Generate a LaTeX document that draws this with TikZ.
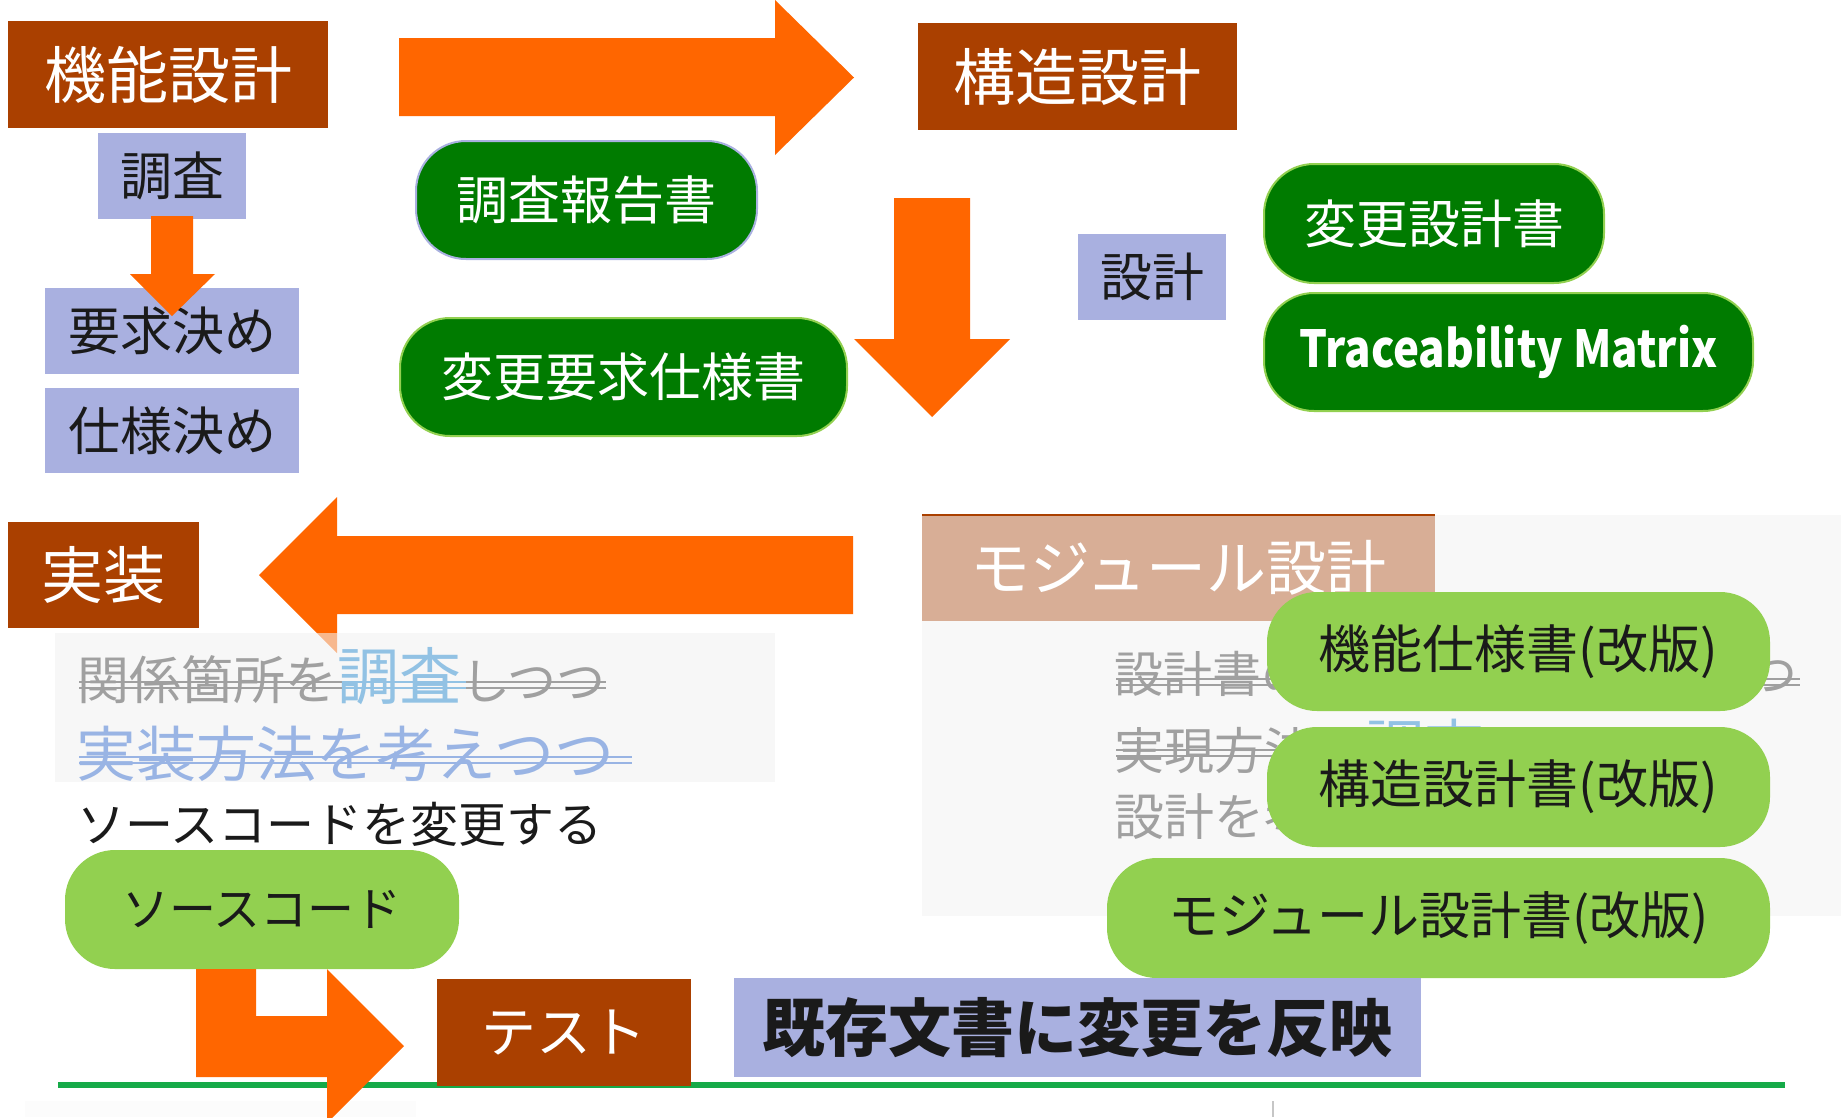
\documentclass[tikz,border=0pt]{standalone}
\usepackage{fontspec}
\setmainfont{Noto Sans CJK JP}
\definecolor{cbrown}{RGB}{170,64,0}
\definecolor{clav}{RGB}{169,176,224}
\definecolor{corange}{RGB}{255,102,0}
\definecolor{cdgreen}{RGB}{0,123,0}
\definecolor{clgreen}{RGB}{146,208,80}
\definecolor{cmodule}{RGB}{216,174,150}
\definecolor{cbg}{RGB}{248,248,248}
\definecolor{cbgov}{RGB}{243,243,243}
\definecolor{cbg2}{RGB}{252,252,252}
\definecolor{cgraytext}{RGB}{160,160,160}
\definecolor{cblueA}{RGB}{146,194,228}
\definecolor{cblueB}{RGB}{153,180,228}
\definecolor{cline}{RGB}{22,170,72}
\definecolor{ctext}{RGB}{26,26,26}
\newcommand{\myfs}[1]{\fontsize{#1}{#1}\selectfont}
\begin{document}
\begin{tikzpicture}[x=1pt,y=-1pt,
  box/.style={inner sep=0pt, outer sep=0pt, align=center},
  brownbox/.style={box, fill=cbrown, text=white, font=\myfs{62}},
  lavbox/.style={box, fill=clav, text=ctext, font=\myfs{52}},
  dpill/.style={box, fill=cdgreen, draw=clgreen, line width=2pt, rounded corners=50pt, text=white, font=\myfs{52}},
  lpill/.style={box, fill=clgreen, rounded corners=50pt, text=ctext, font=\myfs{52}},
  blockarrow/.style={fill=corange, draw=none},
  strike/.style={line width=2.6pt},
  txt/.style={anchor=base west, inner sep=0pt, outer sep=0pt}
]
\useasboundingbox (0,0) rectangle (1841,1117);
\fill[white] (0,0) rectangle (1841,1117);

% backgrounds
\fill[cbg] (922,515) rectangle (1841,916);
\fill[cbg2] (25,1101) rectangle (416,1117);
\draw[gray!45, line width=2pt] (1273,1101) -- (1273,1117);

% top-left block
\node[brownbox, minimum width=320pt, minimum height=107pt] (kinou) at (168,74.5) {機能設計};
\node[lavbox, minimum width=148pt, minimum height=86pt] (chousa) at (172,176) {調査};
\node[lavbox, minimum width=254pt, minimum height=86pt] (youkyuu) at (172,331) {要求決め};
\node[lavbox, minimum width=254pt, minimum height=85pt] (shiyou) at (172,430.5) {仕様決め};
\fill[blockarrow] (151,216) -- (193,216) -- (193,274) -- (215,274) -- (172,316) -- (130,274) -- (151,274) -- cycle;

% top arrow
\fill[blockarrow] (399,38) -- (775,38) -- (775,0) -- (854,77.5) -- (775,155) -- (775,116) -- (399,116) -- cycle;

\node[dpill, draw=clav, minimum width=341pt, minimum height=118pt] (houkoku) at (586.5,200) {調査報告書};
\node[dpill, minimum width=447pt, minimum height=118pt] (henyou) at (623.5,377) {変更要求仕様書};

% structure design
\node[brownbox, minimum width=319pt, minimum height=107pt] (kouzou) at (1077.5,76.5) {構造設計};
\fill[blockarrow] (894,198) -- (970,198) -- (970,339) -- (1010,339) -- (932,417) -- (854,339) -- (894,339) -- cycle;
\node[lavbox, minimum width=148pt, minimum height=86pt] (sekkei) at (1152,277) {設計};
\node[dpill, minimum width=340pt, minimum height=119pt] (hensekkei) at (1434,223.5) {変更設計書};
\node[dpill, minimum width=489pt, minimum height=118pt, font=\myfs{51}\bfseries] (trace) at (1508.5,352) {\scalebox{0.86}[1]{Traceability Matrix}};

% implementation
\node[brownbox, minimum width=191pt, minimum height=106pt] (jissou) at (103.5,575) {実装};
\fill[blockarrow] (853,536) -- (337,536) -- (337,497) -- (259,575) -- (337,653) -- (337,614) -- (853,614) -- cycle;
\fill[cbgov, fill opacity=0.59] (55,633) rectangle (775,782);

\node[txt] (l1) at (77,699) {\textcolor{cgraytext}{\myfs{52}関係箇所を}\textcolor{cblueA}{\myfs{62}調査}\textcolor{cgraytext}{\myfs{49}しつつ}};
\draw[strike, cgraytext] (79,682) -- (342,682) (79,688) -- (342,688);
\draw[strike, cblueA] (342,682) -- (466,682) (342,688) -- (466,688);
\draw[strike, cgraytext] (466,682) -- (606,682) (466,688) -- (606,688);

\node[txt] (l2) at (76,776) {\textcolor{cblueB}{\myfs{60}実装方法を考えつつ}};
\draw[strike, cblueB] (79,757) -- (632,757) (79,763) -- (632,763);

\node[txt] (l3) at (77,842) {\color{ctext}\myfs{48}ソースコードを変更する};

\node[lpill, minimum width=394pt, minimum height=119pt, font=\myfs{47}] (source) at (262,909.5) {ソースコード};

% module design
\node[box, fill=cmodule, text=white, font=\myfs{60}, minimum width=513pt, minimum height=106pt] (module) at (1178.5,568) {モジュール設計};
\draw[cbrown, line width=2pt] (module.north west) -- (module.north east);

\node[txt] (r1) at (1114,692) {\textcolor{cgraytext}{\myfs{49}設計書の関係箇所を確認しつつ}};
\draw[strike, cgraytext] (1116,679) -- (1800,679) (1116,685) -- (1800,685);
\node[txt] (r2) at (1114,769) {\textcolor{cgraytext}{\myfs{50}実現方法を}\textcolor{cblueA}{\myfs{60}調査}\textcolor{cgraytext}{\myfs{50}しつつ}};
\draw[strike, cgraytext] (1116,750) -- (1370,750) (1116,756) -- (1370,756);
\node[txt] (r3) at (1114,835) {\textcolor{cgraytext}{\myfs{50}設計を考える}};

\node[lpill, minimum width=503pt, minimum height=119pt] (kinoukai) at (1518.5,651.5) {機能仕様書(改版)};
\node[lpill, minimum width=503pt, minimum height=120pt] (kouzoukai) at (1518.5,787) {構造設計書(改版)};
\node[lpill, minimum width=663pt, minimum height=120pt, font=\myfs{51}] (modulekai) at (1438.5,918) {モジュール設計書(改版)};

% bottom
\draw[cline, line width=6pt] (58,1085) -- (1785,1085);
\fill[blockarrow] (196,969) -- (256,969) -- (256,1016) -- (327,1016) -- (327,969) -- (404,1046) -- (327,1123) -- (327,1077) -- (196,1077) -- cycle;
\node[brownbox, minimum width=254pt, minimum height=107pt, font=\myfs{55}] (test) at (564,1032.5) {テスト};
\node[lavbox, minimum width=687pt, minimum height=99pt, font=\myfs{63}\bfseries] (kizon) at (1077.5,1027.5) {既存文書に変更を反映};
\end{tikzpicture}
\end{document}
